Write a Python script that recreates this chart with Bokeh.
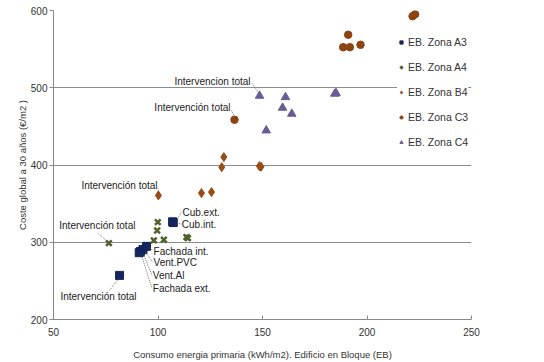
from bokeh.plotting import figure
from bokeh.models import ColumnDataSource, FixedTicker, Legend, LegendItem
from bokeh.core.properties import value
from bokeh.embed import file_html
from bokeh.resources import INLINE

# --- data ---
a3_x = [107.3, 107.0, 94.5, 92.8, 91.6, 91.0, 81.6]
a3_y = [325.5, 326.5, 294.7, 290.5, 288.0, 286.5, 257.1]
a4_x = [76.5, 99.9, 99.6, 98.0, 102.8, 113.6, 114.3]
a4_y = [298.9, 326.1, 315.3, 302.4, 303.3, 306.6, 305.4]
b4_x = [131.5, 130.5, 148.5, 149.3, 100.2, 120.8, 125.6]
b4_y = [410.2, 397.2, 398.5, 397.8, 360.6, 363.6, 364.9]
c3_x = [221.8, 223.0, 191.0, 188.6, 191.8, 196.9, 136.6]
c3_y = [592.6, 595.0, 568.6, 552.5, 552.5, 555.6, 458.6]
c4_x = [148.6, 151.8, 161.0, 159.6, 164.0, 184.6, 185.2]
c4_y = [489.6, 444.7, 487.8, 474.1, 466.3, 492.2, 493.0]

series_names = ["EB. Zona A3", "EB. Zona A4", "EB. Zona B4", "EB. Zona C3", "EB. Zona C4"]
x_ticks = [50, 100, 150, 200, 250]
y_ticks = [200, 300, 400, 500, 600]

# annotations: label text, label anchor (data units), alignment
ann_text = ["Intervencion total", "Intervención total", "Intervención total",
            "Intervención total", "Intervención total", "Cub.ext.", "Cub.int.",
            "Fachada int.", "Vent.PVC", "Vent.Al", "Fachada ext."]
ann_x = [144.3, 134.7, 99.8, 89.2, 53.3, 111.7, 111.4, 97.9, 97.9, 97.5, 97.5]
ann_y = [508.2, 474.5, 373.6, 321.9, 230.0, 338.7, 323.2, 288.2, 274.0, 257.2, 240.4]
ann_align = ["right", "right", "right", "right", "left", "left", "left",
             "left", "left", "left", "left"]
# leader lines from label to point
lead_x0 = [145.0, 135.2, 100.0, 71.5, 76.8, 111.2, 109.0, 96.0, 94.0, 93.1, 92.1]
lead_y0 = [505.6, 470.6, 370.0, 311.5, 237.8, 338.7, 325.0, 292.0, 286.9, 284.4, 283.1]
lead_x1 = [148.2, 136.5, 100.2, 75.5, 81.2, 109.3, 111.2, 97.6, 97.5, 97.1, 97.1]
lead_y1 = [493.5, 463.5, 364.0, 301.5, 253.0, 330.0, 323.5, 289.5, 274.0, 257.2, 240.4]

FONT = "Liberation Sans"

p = figure(frame_width=418, frame_height=309, x_range=(50, 250), y_range=(200, 600),
           output_backend="svg", toolbar_location=None,
           min_border_left=53, min_border_right=70, min_border_top=10, min_border_bottom=40)
p.outline_line_color = None
p.background_fill_color = "white"

r_a3 = p.scatter(a3_x, a3_y, marker="square", size=8, color="#14245C")
r_a4 = p.scatter(a4_x, a4_y, marker="x", size=8, line_color="#4F6228", line_width=2.5)
r_b4 = p.scatter(b4_x, b4_y, marker="diamond", size=9, color="#9A4C16")
r_c3 = p.scatter(c3_x, c3_y, marker="circle", size=7.5, color="#8E4412")
r_c4 = p.scatter(c4_x, c4_y, marker="triangle", size=8.5, color="#6B5B95")

p.segment(lead_x0, lead_y0, lead_x1, lead_y1, line_color="#555555",
          line_width=0.8, line_dash="1 1")

src = ColumnDataSource(dict(x=ann_x, y=ann_y, t=ann_text, a=ann_align))
p.text(x="x", y="y", text="t", text_align="a", source=src, text_baseline="middle",
       text_font=value(FONT), text_font_size="10px", text_color="#222222")

# axes
for ax in (p.xaxis[0], p.yaxis[0]):
    ax.axis_line_color = "#888888"
    ax.major_tick_line_color = "#888888"
    ax.minor_tick_line_color = None
    ax.major_label_text_font = FONT
    ax.major_label_text_font_size = "10px"
    ax.major_label_text_color = "#333333"
    ax.axis_label_text_font = FONT
    ax.axis_label_text_font_size = "9.5px"
    ax.axis_label_text_font_style = "normal"
    ax.axis_label_text_color = "#333333"

p.xaxis.ticker = FixedTicker(ticks=x_ticks)
p.yaxis.ticker = FixedTicker(ticks=y_ticks)
p.xaxis.axis_label = "Consumo energia primaria (kWh/m2). Edificio en Bloque (EB)"
p.yaxis.axis_label = "Coste global a 30 años (€/m2 )"
p.xaxis.major_tick_in = 4
p.xaxis.major_tick_out = 0
p.xaxis.major_label_standoff = 8
p.xaxis.axis_label_standoff = 10
p.yaxis.major_tick_in = 0
p.yaxis.major_tick_out = 4
p.yaxis.major_label_standoff = 2
p.yaxis.axis_label_standoff = 0

p.xgrid.grid_line_color = None
p.ygrid.grid_line_color = "#8C8C8C"
p.ygrid.grid_line_width = 1

legend = Legend(items=[LegendItem(label=n, renderers=[r]) for n, r in
                       zip(series_names, [r_a3, r_a4, r_b4, r_c3, r_c4])],
                location=(344, 171))
legend.border_line_color = None
legend.background_fill_color = "white"
legend.background_fill_alpha = 1
legend.label_text_font = FONT
legend.label_text_font_size = "10.5px"
legend.label_text_color = "#333333"
legend.glyph_width = 8
legend.glyph_height = 10
legend.label_height = 10
legend.spacing = 13
legend.padding = 5
legend.margin = 0
legend.label_standoff = 3
p.add_layout(legend, "center")

open("out.html", "w").write(file_html(p, INLINE))
